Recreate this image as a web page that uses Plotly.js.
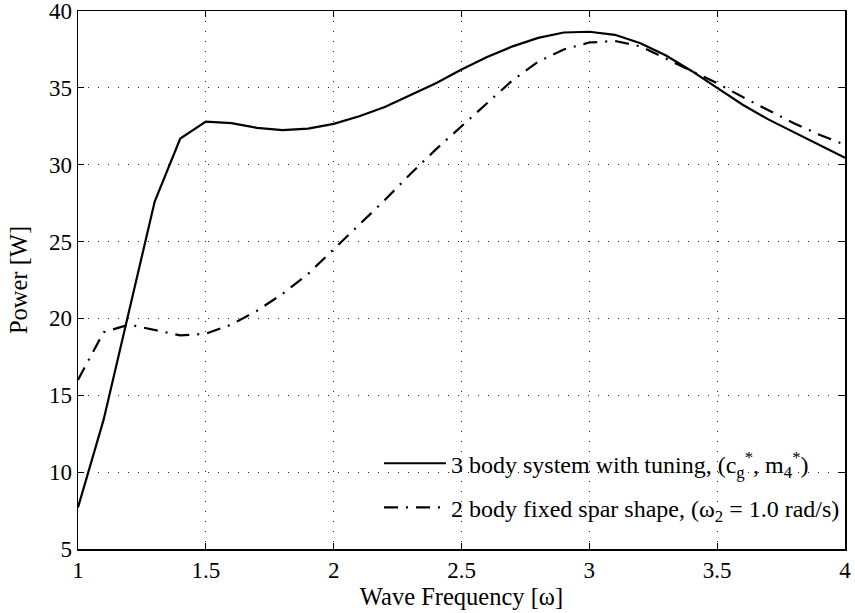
<!DOCTYPE html>
<html>
<head>
<meta charset="utf-8">
<script src="https://cdn.plot.ly/plotly-3.0.1.min.js"></script>
<style>html,body{margin:0;padding:0;background:#fff;}#chart{width:855px;height:613px;}</style>
</head>
<body>
<div id="chart"></div>
<script>
const freq = [1.0,1.1,1.2,1.3,1.4,1.5,1.6,1.7,1.8,1.9,2.0,2.1,2.2,2.3,2.4,2.5,2.6,2.7,2.8,2.9,3.0,3.1,3.2,3.3,3.4,3.5,3.6,3.7,3.8,3.9,4.0];
const power3body = [7.7,13.4,20.5,27.6,31.7,32.8,32.7,32.4,32.25,32.35,32.66,33.15,33.75,34.5,35.3,36.2,37.0,37.7,38.25,38.6,38.65,38.45,37.9,37.1,36.1,35.0,33.9,32.95,32.1,31.3,30.45];
const power2body = [16.0,19.1,19.6,19.25,18.9,19.0,19.6,20.5,21.6,22.9,24.5,26.1,27.7,29.4,31.0,32.5,34.0,35.5,36.7,37.5,37.95,38.05,37.7,36.9,36.05,35.3,34.4,33.55,32.7,31.95,31.3];
const name3 = "3 body system with tuning, (c<sub>g</sub><sup>*</sup>, m<sub>4</sub><sup>*</sup>)";
const name2 = "2 body fixed spar shape, (ω<sub>2</sub> = 1.0 rad/s)";
const xTitle = "Wave Frequency [ω]";
const yTitle = "Power [W]";

const traces = [
  {x: freq, y: power3body, name: name3, legendgroup: 'a', mode: 'lines', line: {color: '#000', width: 2.2, dash: 'solid'}},
  {x: freq, y: power2body, name: name2, legendgroup: 'b', mode: 'lines', line: {color: '#000', width: 2.2, dash: '14px,8px,2px,8px'}}
];
const fam = '"Liberation Serif", "Times New Roman", serif';
const axisCommon = {
  showline: true, linecolor: '#000', linewidth: 1.5, mirror: 'ticks',
  ticks: 'inside', ticklen: 6, tickwidth: 1.2, tickcolor: '#000',
  showgrid: true, gridcolor: '#222', gridwidth: 1, griddash: '1px,9px',
  zeroline: false, automargin: false, ticklabeloverflow: 'allow',
  tickfont: {family: fam, size: 23, color: '#000'}
};
const layout = {
  width: 855, height: 613,
  margin: {l: 78, r: 10, t: 11, b: 64},
  paper_bgcolor: '#fff', plot_bgcolor: '#fff',
  font: {family: fam, size: 24, color: '#000'},
  showlegend: true,
  legend: {x: 1.0, xanchor: 'right', y: 0.035, yanchor: 'bottom', bgcolor: 'rgba(0,0,0,0)', borderwidth: 0,
           font: {family: fam, size: 24, color: '#000'}, tracegroupgap: 10, itemwidth: 62},
  xaxis: Object.assign({}, axisCommon, {range: [1, 4], dtick: 0.5, tick0: 1,
    title: {text: xTitle, font: {family: fam, size: 24.5, color: '#000'}, standoff: 3}}),
  yaxis: Object.assign({}, axisCommon, {range: [5, 40], dtick: 5, tick0: 5,
    title: {text: yTitle, font: {family: fam, size: 24.5, color: '#000'}, standoff: 14}})
};
Plotly.newPlot('chart', traces, layout, {displayModeBar: false, staticPlot: true});
</script>
</body>
</html>
